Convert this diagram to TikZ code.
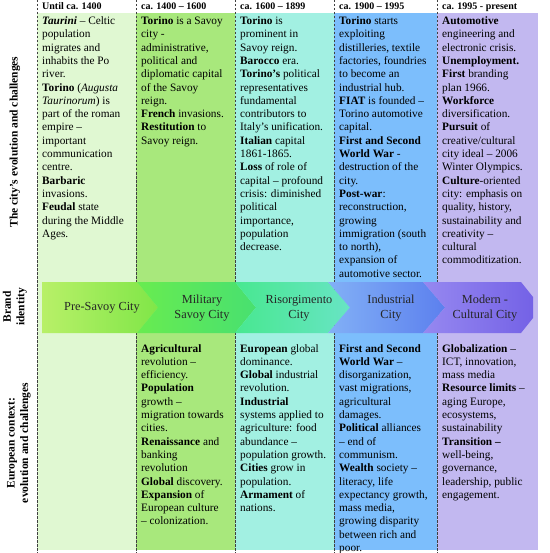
\documentclass[tikz,border=0pt]{standalone}
\usepackage{fontspec}
\setmainfont{Liberation Serif}
\definecolor{c1}{HTML}{E0F8D2}
\definecolor{c2}{HTML}{A8E87C}
\definecolor{c3}{HTML}{A2F0E2}
\definecolor{c4}{HTML}{7CBEFC}
\definecolor{c5}{HTML}{C2B8F0}
\begin{document}
\begin{tikzpicture}[x=1bp,y=-1bp,
  body/.style={anchor=north west, inner sep=0pt, align=left, font={\fontsize{11.3bp}{13.3bp}\selectfont}},
  head/.style={anchor=base west, inner sep=0pt, font={\fontsize{10bp}{12bp}\selectfont\bfseries}},
  side/.style={rotate=90, inner sep=0pt, align=center, font={\fontsize{11.5bp}{13.5bp}\selectfont\bfseries}},
  chevtext/.style={inner sep=0pt, align=center, font={\fontsize{12.3bp}{15bp}\selectfont}, text=black!85},
  sepline/.style={draw=black!75, line width=0.8bp, dash pattern=on 2.5bp off 1.5bp}]
\useasboundingbox (0,0) rectangle (550,553);
% column backgrounds
\fill[c1] (37,13) rectangle (136,550);
\fill[c2] (136,13) rectangle (235,550);
\fill[c3] (235,13) rectangle (334,550);
\fill[c4] (334,13) rectangle (437,550);
\fill[c5] (437,13) rectangle (538,550);
% separators
\foreach \xx in {37,136,235,334,437} \draw[sepline] (\xx,0) -- (\xx,553);
% chevrons
\shade[left color={rgb,255:red,184;green,240;blue,104}, right color={rgb,255:red,128;green,230;blue,72}]
  (42,282) -- (137,282) -- (158,307.5) -- (137,333) -- (42,333) -- cycle;
\shade[left color={rgb,255:red,104;green,236;blue,80}, right color={rgb,255:red,72;green,224;blue,112}]
  (137,282) -- (235,282) -- (256,307.5) -- (235,333) -- (137,333) -- (158,307.5) -- cycle;
\shade[left color={rgb,255:red,72;green,232;blue,144}, right color={rgb,255:red,104;green,228;blue,196}]
  (235,282) -- (328,282) -- (350,307.5) -- (328,333) -- (235,333) -- (256,307.5) -- cycle;
\shade[left color={rgb,255:red,130;green,176;blue,246}, right color={rgb,255:red,92;green,128;blue,238}]
  (328,282) -- (423,282) -- (445,307.5) -- (423,333) -- (328,333) -- (350,307.5) -- cycle;
\shade[left color={rgb,255:red,150;green,136;blue,240}, right color={rgb,255:red,116;green,98;blue,230}]
  (423,282) -- (521,282) -- (533,297) -- (533,318) -- (521,333) -- (423,333) -- (445,307.5) -- cycle;
\node[chevtext] (b1) at (102,308) {Pre-Savoy City};
\node[chevtext] (b2) at (202,308) {Military\\Savoy City};
\node[chevtext] (b3) at (299,308) {Risorgimento\\City};
\node[chevtext] (b4) at (391,308) {Industrial\\City};
\node[chevtext] (b5) at (485,308) {Modern -\\Cultural City};
% side labels
\node[side] (s1) at (15,142) {The city’s evolution and challenges};
\node[side] (s2) at (15,307) {Brand\\identity};
\node[side] (s3) at (19,443) {European context:\\evolution and challenges};
% headers
\node[head] (h1) at (42,10) {Until ca. 1400};
\node[head] (h2) at (141,10) {ca. 1400 -- 1600};
\node[head] (h3) at (240,10) {ca. 1600 -- 1899};
\node[head] (h4) at (339,10) {ca. 1900 -- 1995};
\node[head] (h5) at (442,10) {ca. 1995 - present};
% upper texts
\node[body] (u1) at (42,16.5) {\textbf{\textit{Taurini}} -- Celtic\\population\\migrates and\\inhabits the Po\\river.\\\textbf{Torino} (\textit{Augusta}\\\textit{Taurinorum}) is\\part of the roman\\empire --\\important\\communication\\centre.\\\textbf{Barbaric}\\invasions.\\\textbf{Feudal} state\\during the Middle\\Ages.};
\node[body] (u2) at (141,16.5) {\textbf{Torino} is a Savoy\\city -\\administrative,\\political and\\diplomatic capital\\of the Savoy\\reign.\\\textbf{French} invasions.\\\textbf{Restitution} to\\Savoy reign.};
\node[body] (u3) at (240,16.5) {\textbf{Torino} is\\prominent in\\Savoy reign.\\\textbf{Barocco} era.\\\textbf{Torino’s} political\\representatives\\fundamental\\contributors to\\Italy’s unification.\\\textbf{Italian} capital\\1861-1865.\\\textbf{Loss} of role of\\capital -- profound\\crisis: diminished\\political\\importance,\\population\\decrease.};
\node[body] (u4) at (339,16.5) {\textbf{Torino} starts\\exploiting\\distilleries, textile\\factories, foundries\\to become an\\industrial hub.\\\textbf{FIAT} is founded --\\Torino automotive\\capital.\\\textbf{First and Second}\\\textbf{World War} -\\destruction of the\\city.\\\textbf{Post-war}:\\reconstruction,\\growing\\immigration (south\\to north),\\expansion of\\automotive sector.};
\node[body] (u5) at (442,16.5) {\textbf{Automotive}\\engineering and\\electronic crisis.\\\textbf{Unemployment.}\\\textbf{First} branding\\plan 1966.\\\textbf{Workforce}\\diversification.\\\textbf{Pursuit} of\\creative/cultural\\city ideal -- 2006\\Winter Olympics.\\\textbf{Culture}-oriented\\city: emphasis on\\quality, history,\\sustainability and\\creativity --\\cultural\\commoditization.};
% lower texts
\node[body] (l2) at (141,344) {\textbf{Agricultural}\\revolution --\\efficiency.\\\textbf{Population}\\growth --\\migration towards\\cities.\\\textbf{Renaissance} and\\banking\\revolution\\\textbf{Global} discovery.\\\textbf{Expansion} of\\European culture\\-- colonization.};
\node[body] (l3) at (240,344) {\textbf{European} global\\dominance.\\\textbf{Global} industrial\\revolution.\\\textbf{Industrial}\\systems applied to\\agriculture: food\\abundance --\\population growth.\\\textbf{Cities} grow in\\population.\\\textbf{Armament} of\\nations.};
\node[body] (l4) at (339,344) {\textbf{First and Second}\\\textbf{World War} --\\disorganization,\\vast migrations,\\agricultural\\damages.\\\textbf{Political} alliances\\-- end of\\communism.\\\textbf{Wealth} society --\\literacy, life\\expectancy growth,\\mass media,\\growing disparity\\between rich and\\poor.};
\node[body] (l5) at (442,344) {\textbf{Globalization} --\\ICT, innovation,\\mass media\\\textbf{Resource limits} --\\aging Europe,\\ecosystems,\\sustainability\\\textbf{Transition --}\\well-being,\\governance,\\leadership, public\\engagement.};
\end{tikzpicture}
\end{document}
